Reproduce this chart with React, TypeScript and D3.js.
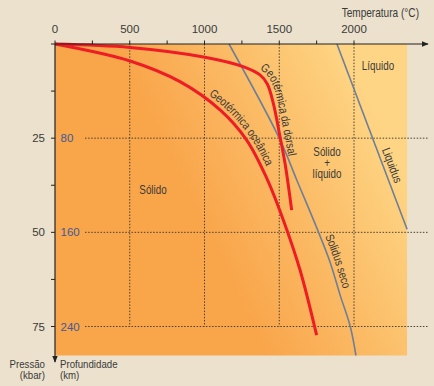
import React from "react";
import * as d3 from "d3";

const TEMP_TICKS = [0, 500, 1000, 1500, 2000];
const TEMP_MINOR = [0, 250, 500, 750, 1000, 1250, 1500, 1750, 2000];
const PRESSURE_TICKS = [25, 50, 75];
const PRESSURE_MINOR = [12.5, 25, 37.5, 50, 62.5, 75];
const DEPTH_LABELS = ["80", "160", "240"];

// [temperature °C, pressure kbar]
const dorsal: [number, number][] = [
  [0, 0], [502, 0.9], [1003, 3.5], [1258, 6.0], [1371, 8.2], [1420, 10.6],
  [1460, 15.7], [1505, 24.6], [1540, 32.0], [1583, 44.1],
];
const oceanic: [number, number][] = [
  [0, 0], [502, 4.5], [836, 10.0], [1104, 17.5], [1282, 25.5], [1416, 35.6],
  [1527, 46.7], [1639, 60.0], [1750, 77.3],
];
const solidus: [number, number][] = [
  [1164, 0], [1500, 25], [1617, 36.1], [1761, 49.8], [1839, 57.8], [1910, 67], [1975, 75], [2013, 82.7],
];
const liquidus: [number, number][] = [
  [1886, 0], [2355, 49.2],
];
const T_MAX = 2355;
const P_MAX = 82.7;

const W = 434, H = 386;
const BG = "#EBE1CC";
const TEXT = "#3a3a3a";
const BLUE = "#3F5A98";
const RED = "#EE1C25";
const GREY_LINE = "#6E7F98";
const FONT = "'Liberation Sans', Arial, sans-serif";
const NARROW_SCALE = 0.82;

let measureCtx: CanvasRenderingContext2D | null = null;
function charWidth(ch: string, fs: number) {
  if (!measureCtx) measureCtx = document.createElement("canvas").getContext("2d");
  if (!measureCtx) return fs * 0.5;
  measureCtx.font = `${fs}px "Liberation Sans"`;
  return measureCtx.measureText(ch).width;
}

function flatten(data: [number, number][], x: any, y: any, curve: any) {
  const pts: number[][] = [];
  let cx = 0, cy = 0;
  const ctx: any = {
    moveTo(a: number, b: number) { pts.push([a, b]); cx = a; cy = b; },
    lineTo(a: number, b: number) {
      for (let i = 1; i <= 24; i++) {
        const t = i / 24;
        pts.push([cx + (a - cx) * t, cy + (b - cy) * t]);
      }
      cx = a; cy = b;
    },
    bezierCurveTo(x1: number, y1: number, x2: number, y2: number, a: number, b: number) {
      for (let i = 1; i <= 24; i++) {
        const t = i / 24, u = 1 - t;
        pts.push([
          u * u * u * cx + 3 * u * u * t * x1 + 3 * u * t * t * x2 + t * t * t * a,
          u * u * u * cy + 3 * u * u * t * y1 + 3 * u * t * t * y2 + t * t * t * b,
        ]);
      }
      cx = a; cy = b;
    },
    quadraticCurveTo(_x1: number, _y1: number, a: number, b: number) { pts.push([a, b]); cx = a; cy = b; },
    closePath() {},
  };
  d3.line<[number, number]>().x(d => x(d[0])).y(d => y(d[1])).curve(curve).context(ctx)(data);
  return pts;
}

function offsetPoly(pts: number[][], off: number) {
  const n = pts.length;
  return pts.map((p, i) => {
    const a = pts[Math.max(0, i - 1)], b = pts[Math.min(n - 1, i + 1)];
    const dx = b[0] - a[0], dy = b[1] - a[1];
    const L = Math.hypot(dx, dy) || 1;
    return [p[0] + (dy / L) * off, p[1] - (dx / L) * off];
  });
}

function curveLabel(raw: number[][], text: string, target: [number, number], baseOff: number, fs: number) {
  const pts = offsetPoly(raw, baseOff);
  const cum = [0];
  for (let i = 1; i < pts.length; i++) {
    cum.push(cum[i - 1] + Math.hypot(pts[i][0] - pts[i - 1][0], pts[i][1] - pts[i - 1][1]));
  }
  let s0 = 0, bd = Infinity;
  for (let i = 1; i < raw.length; i++) {
    const ax = raw[i - 1][0], ay = raw[i - 1][1];
    const dx = raw[i][0] - ax, dy = raw[i][1] - ay;
    const L2 = dx * dx + dy * dy || 1;
    const t = Math.max(0, Math.min(1, ((target[0] - ax) * dx + (target[1] - ay) * dy) / L2));
    const d = Math.hypot(ax + dx * t - target[0], ay + dy * t - target[1]);
    if (d < bd) { bd = d; s0 = cum[i - 1] + t * (cum[i] - cum[i - 1]); }
  }
  const chars = Array.from(text);
  const widths = chars.map(ch => charWidth(ch, fs) * NARROW_SCALE);
  const total = widths.reduce((a, b) => a + b, 0);
  let s = s0 - total / 2;
  const out: { ch: string; x: number; y: number; deg: number }[] = [];
  chars.forEach((ch, k) => {
    const mid = s + widths[k] / 2;
    s += widths[k];
    let i = 1;
    while (i < cum.length - 1 && cum[i] < mid) i++;
    const seg = cum[i] - cum[i - 1] || 1;
    const t = Math.max(-1, Math.min(2, (mid - cum[i - 1]) / seg));
    const px = pts[i - 1][0] + (pts[i][0] - pts[i - 1][0]) * t;
    const py = pts[i - 1][1] + (pts[i][1] - pts[i - 1][1]) * t;
    const j0 = Math.max(0, i - 3), j1 = Math.min(pts.length - 1, i + 2);
    const ang = Math.atan2(pts[j1][1] - pts[j0][1], pts[j1][0] - pts[j0][0]);
    out.push({ ch, x: px, y: py, deg: ang * 180 / Math.PI });
  });
  return out;
}

function NText(props: { x: number; y: number; anchor?: string; fs?: number; fill?: string; children: React.ReactNode }) {
  const { x, y, anchor = "start", fs = 12, fill = TEXT, children } = props;
  return (
    <g transform={`translate(${x},${y}) scale(${NARROW_SCALE},1)`}>
      <text x={0} y={0} textAnchor={anchor as any} fontFamily={FONT} fontSize={fs} fill={fill}>{children}</text>
    </g>
  );
}

function CurveText(props: { glyphs: { ch: string; x: number; y: number; deg: number }[]; fs?: number }) {
  const fs = props.fs ?? 12;
  return (
    <g>
      {props.glyphs.map((g, i) => (
        <text key={i} transform={`translate(${g.x},${g.y}) rotate(${g.deg}) scale(${NARROW_SCALE},1)`}
          textAnchor="middle" fontFamily={FONT} fontSize={fs} fill={TEXT}>{g.ch}</text>
      ))}
    </g>
  );
}

export default function App() {
  const x = d3.scaleLinear().domain([0, 2000]).range([55, 354]);
  const y = d3.scaleLinear().domain([0, 75]).range([44, 326.5]);
  const curve = d3.curveCatmullRom.alpha(0.5);
  const line = d3.line<[number, number]>().x(d => x(d[0])).y(d => y(d[1])).curve(curve);
  const straight = d3.line<[number, number]>().x(d => x(d[0])).y(d => y(d[1]));

  const x0 = x(0), y0 = y(0);
  const xr = x(T_MAX), yb = y(P_MAX);
  const grid = { stroke: "#4a4038", strokeWidth: 1, strokeDasharray: "1.5,1.6" };

  const dorsalPts = flatten(dorsal, x, y, curve);
  const oceanicPts = flatten(oceanic, x, y, curve);
  const solidusPts = flatten(solidus, x, y, curve);
  const liquidusPts = flatten(liquidus, x, y, d3.curveLinear);

  const dorsalLbl = curveLabel(dorsalPts, "Geotérmica da dorsal", [276, 111], 4.5, 12);
  const oceanicLbl = curveLabel(oceanicPts, "Geotérmica oceânica", [241, 128], 4.5, 12);
  const liquidusLbl = curveLabel(liquidusPts, "Liquidus", [385, 168], 4.5, 12);
  const solidusLbl = curveLabel(solidusPts, "Solidus seco", [329.5, 264], 4.5, 12);

  return (
    <svg width={W} height={H} style={{ position: "absolute", left: 0, top: 0 }}>
      <defs>
        <linearGradient id="bgGrad" gradientUnits="userSpaceOnUse" x1={215} y1={255} x2={400} y2={165}>
          <stop offset="0" stopColor="#F9A54A" />
          <stop offset="0.45" stopColor="#FBB963" />
          <stop offset="1" stopColor="#FED584" />
        </linearGradient>
        <marker id="arr" viewBox="0 0 10 10" refX="9" refY="5" markerWidth="6" markerHeight="6" orient="auto">
          <path d="M0,1 L10,5 L0,9 Z" fill="#222" />
        </marker>
      </defs>
      <rect x={0} y={0} width={W} height={H} fill={BG} />
      <rect x={x0} y={y0} width={xr - x0} height={yb - y0} fill="url(#bgGrad)" />

      {TEMP_TICKS.filter(t => t > 0).map(t => (
        <line key={"vg" + t} x1={x(t)} x2={x(t)} y1={y0} y2={y(75)} {...grid} />
      ))}
      {PRESSURE_TICKS.map(p => (
        <line key={"hg" + p} x1={85} x2={429} y1={y(p)} y2={y(p)} {...grid} />
      ))}

      <path d={straight(liquidus) || ""} fill="none" stroke={GREY_LINE} strokeWidth={1.6} />
      <path d={line(solidus) || ""} fill="none" stroke={GREY_LINE} strokeWidth={1.6} />
      <path d={line(oceanic) || ""} fill="none" stroke={RED} strokeWidth={3} />
      <path d={line(dorsal) || ""} fill="none" stroke={RED} strokeWidth={3} />

      <line x1={51} x2={428} y1={y0} y2={y0} stroke="#222" strokeWidth={1.2} markerEnd="url(#arr)" />
      <line x1={x0} x2={x0} y1={y0} y2={362} stroke="#222" strokeWidth={1.2} markerEnd="url(#arr)" />
      {TEMP_MINOR.map(t => (
        <line key={"xt" + t} x1={x(t)} x2={x(t)} y1={y0} y2={y0 - 3.5} stroke="#222" strokeWidth={1} />
      ))}
      {PRESSURE_MINOR.map(p => (
        <line key={"yt" + p} x1={x0} x2={x0 - 4} y1={y(p)} y2={y(p)} stroke="#222" strokeWidth={1} />
      ))}

      {TEMP_TICKS.map(t => (
        <text key={"xl" + t} x={x(t)} y={33} textAnchor="middle" fontFamily={FONT} fontSize={11.5} fill={TEXT}>{t}</text>
      ))}
      {PRESSURE_TICKS.map(p => (
        <text key={"yl" + p} x={45} y={y(p) + 4} textAnchor="end" fontFamily={FONT} fontSize={11.5} fill={TEXT}>{p}</text>
      ))}
      {PRESSURE_TICKS.map((p, i) => (
        <text key={"dl" + p} x={60.5} y={y(p) + 4} textAnchor="start" fontFamily={FONT} fontSize={11.5} fill={BLUE}>{DEPTH_LABELS[i]}</text>
      ))}

      <NText x={419} y={17} anchor="end" fs={12.3}>Temperatura (°C)</NText>
      <NText x={45} y={367.5} anchor="end" fs={11.8}>Pressão</NText>
      <NText x={45} y={378.5} anchor="end" fs={11.8}>(kbar)</NText>
      <NText x={60} y={367.5} fs={11.8}>Profundidade</NText>
      <NText x={60} y={378.5} fs={11.8}>(km)</NText>

      <NText x={153} y={194} anchor="middle">Sólido</NText>
      <NText x={327} y={156} anchor="middle">Sólido</NText>
      <NText x={327} y={167} anchor="middle">+</NText>
      <NText x={327} y={178} anchor="middle">líquido</NText>
      <NText x={378} y={70} anchor="middle">Líquido</NText>

      <CurveText glyphs={dorsalLbl} />
      <CurveText glyphs={oceanicLbl} />
      <CurveText glyphs={liquidusLbl} />
      <CurveText glyphs={solidusLbl} />
    </svg>
  );
}
